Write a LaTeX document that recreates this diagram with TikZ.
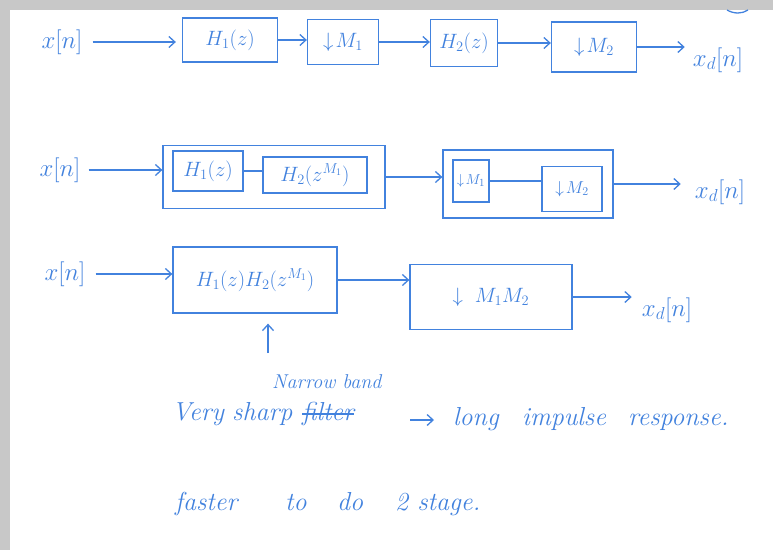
\documentclass[tikz,border=0pt]{standalone}
\usetikzlibrary{arrows.meta}
\definecolor{ink}{RGB}{66,130,222}
\definecolor{frame}{RGB}{200,200,200}
\begin{document}
\begin{tikzpicture}[x=1pt,y=-1pt,
 wire/.style={draw=ink, line width=1.3pt},
 arr/.style={draw=ink, line width=1.3pt, -{Straight Barb[length=6pt,width=11pt]}},
 blk/.style={draw=ink, line width=1.3pt, text=ink, inner sep=0pt, font=\fontsize{20}{22}\selectfont},
 sblk/.style={blk, font=\fontsize{15}{17}\selectfont},
 lbl/.style={text=ink, inner sep=0pt, font=\fontsize{24}{26}\selectfont},
 note/.style={text=ink, inner sep=0pt, anchor=base west, font=\fontsize{26}{28}\selectfont\itshape},
 snote/.style={note, font=\fontsize{20}{22}\selectfont\itshape}]
\useasboundingbox (0,0) rectangle (773,550);
\fill[white] (0,0) rectangle (773,550);
\fill[frame] (0,0) rectangle (773,10);
\fill[frame] (0,0) rectangle (10,550);
% partial circle at top right
\coordinate (c0) at (727,10);
\coordinate (c1) at (748,10);
\draw[wire] (c0) .. controls (734,14) and (742,14) .. (c1);

% ---------- row 1 ----------
\node[lbl] (x1) at (62,42) {$x[n]$};
\node[blk, minimum width=95pt, minimum height=44pt] (h1) at (230,40) {$H_1(z)$};
\node[blk, minimum width=71pt, minimum height=45pt] (m1) at (343,42) {$\downarrow\! M_1$};
\node[blk, minimum width=67pt, minimum height=47pt] (h2) at (464,43) {$H_2(z)$};
\node[blk, minimum width=85pt, minimum height=50pt] (m2) at (594,47) {$\downarrow\! M_2$};
\node[lbl] (y1) at (718,60) {$x_d[n]$};
\draw[arr, shorten <=10pt, shorten >=6pt] (x1.east) -- (x1.east -| h1.west);
\draw[arr] (h1.east) -- (h1.east -| m1.west);
\draw[arr] (m1.east) -- (m1.east -| h2.west);
\draw[arr] (h2.east) -- (h2.east -| m2.west);
\draw[arr, shorten >=8pt] (m2.east) -- (m2.east -| y1.west);

% ---------- row 2 ----------
\node[lbl] (x2) at (60,170) {$x[n]$};
\node[blk, minimum width=222pt, minimum height=63pt] (g1) at (274,177) {};
\node[blk, minimum width=70pt, minimum height=40pt] (a1) at (208,171) {$H_1(z)$};
\node[blk, minimum width=104pt, minimum height=36pt] (a2) at (315,175) {$H_2(z^{M_1})$};
\draw[wire] (a1.east) -- (a1.east -| a2.west);
\draw[arr, shorten <=8pt] (x2.east) -- (x2.east -| g1.west);
\node[blk, minimum width=170pt, minimum height=68pt] (g2) at (528,184) {};
\node[sblk, minimum width=36pt, minimum height=42pt] (b1) at (471,181) {$\downarrow\! M_1$};
\node[sblk, font=\fontsize{18}{20}\selectfont, minimum width=60pt, minimum height=45pt] (b2) at (572,189) {$\downarrow\! M_2$};
\draw[wire] (b1.east) -- (b1.east -| b2.west);
\draw[arr] (g1.east) -- (g1.east -| g2.west);
\node[lbl] (y2) at (720,192) {$x_d[n]$};
\draw[arr, shorten >=14pt] (g2.east) -- (g2.east -| y2.west);

% ---------- row 3 ----------
\node[lbl] (x3) at (65,274) {$x[n]$};
\node[blk, minimum width=164pt, minimum height=66pt] (p1) at (255,280) {$H_1(z)H_2(z^{M_1})$};
\node[blk, minimum width=162pt, minimum height=65pt] (p2) at (491,297) {$\downarrow\ M_1M_2$};
\node[lbl] (y3) at (667,310) {$x_d[n]$};
\draw[arr, shorten <=10pt] (x3.east) -- (x3.east -| p1.west);
\draw[arr] (p1.east) -- (p1.east -| p2.west);
\draw[arr, shorten >=10pt] (p2.east) -- (p2.east -| y3.west);
\coordinate (up) at (268,353);
\draw[arr, shorten >=10pt] (up) -- (up |- p1.south);

% ---------- notes ----------
\node[note] (w1) at (172,420) {Very};
\node[note] (w2) at (232,420) {sharp};
\node[note] (w3) at (302,420) {filter};
\draw[wire] ([yshift=6pt]w3.base west) -- ([yshift=6pt]w3.base east);
\node[snote] (w4) at (272,388) {Narrow band};
\coordinate (ra) at (410,420);
\coordinate (rb) at (434,420);
\draw[arr] (ra) -- (rb);
\node[note] (w5) at (453,425) {long};
\node[note] (w6) at (522,425) {impulse};
\node[note] (w7) at (628,425) {response.};
\node[note] (w8) at (175,510) {faster};
\node[note] (w9) at (285,510) {to};
\node[note] (w10) at (337,510) {do};
\node[note] (w11) at (395,510) {2 stage.};
\end{tikzpicture}
\end{document}
